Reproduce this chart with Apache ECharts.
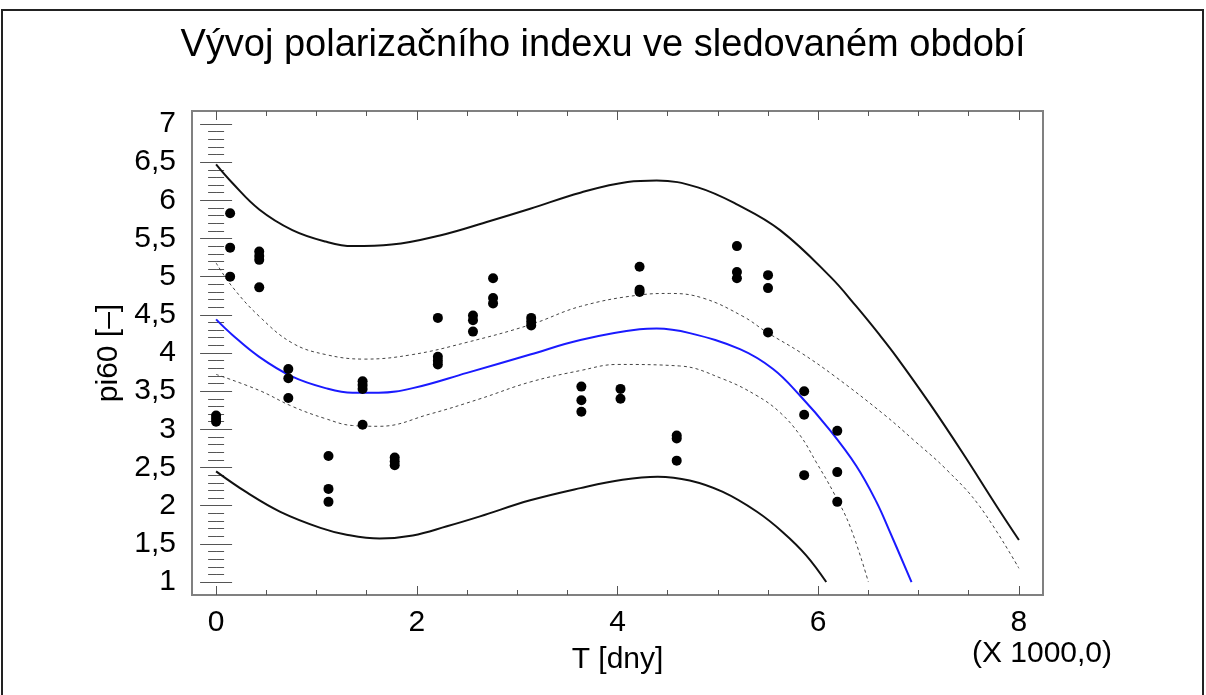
<!DOCTYPE html>
<html><head><meta charset="utf-8">
<script src="https://cdn.jsdelivr.net/npm/echarts@6/dist/echarts.min.js"></script>
<style>html,body{margin:0;padding:0;background:#fff}#c{width:1206px;height:695px}</style>
</head><body><div id="c"></div>
<script>
const titleText = 'Vývoj polarizačního indexu ve sledovaném období';
const xName = 'T [dny]';
const yName = 'pi60 [–]';
const xScaleNote = '(X 1000,0)';

// tick labels
const xTickLabels = [0, 2, 4, 6, 8];
const xMinorTicks = [0, 0.5, 1, 1.5, 2, 2.5, 3, 3.5, 4, 4.5, 5, 5.5, 6, 6.5, 7, 7.5, 8];
const yTickLabels = [1, 1.5, 2, 2.5, 3, 3.5, 4, 4.5, 5, 5.5, 6, 6.5, 7];

// observed points (T in thousands of days, pi60)
const pointT = [0, 0, 0, 0.14, 0.14, 0.14, 0.43, 0.43, 0.43, 0.43, 0.72, 0.72, 0.72,
  1.12, 1.12, 1.12, 1.46, 1.46, 1.46, 1.46, 1.78, 1.78, 1.78,
  2.21, 2.21, 2.21, 2.21, 2.56, 2.56, 2.56, 2.76, 2.76, 2.76, 3.14, 3.14, 3.14,
  3.64, 3.64, 3.64, 4.03, 4.03, 4.22, 4.22, 4.22, 4.59, 4.59, 4.59,
  5.19, 5.19, 5.19, 5.50, 5.50, 5.50, 5.86, 5.86, 5.86, 6.19, 6.19, 6.19];
const pointV = [3.18, 3.14, 3.10, 5.83, 5.38, 5.00, 5.33, 5.27, 5.22, 4.86, 3.79, 3.67, 3.41,
  2.65, 2.22, 2.05, 3.63, 3.58, 3.53, 3.06, 2.63, 2.58, 2.53,
  4.46, 3.95, 3.90, 3.85, 4.49, 4.43, 4.28, 4.98, 4.72, 4.65, 4.46, 4.41, 4.36,
  3.56, 3.38, 3.23, 3.53, 3.40, 5.13, 4.83, 4.80, 2.92, 2.88, 2.59,
  5.40, 5.06, 4.98, 5.02, 4.85, 4.27, 3.50, 3.19, 2.40, 2.98, 2.44, 2.05];

// fitted model
const fitT = [0, 0.16, 0.43, 0.76, 1.09, 1.36, 1.62, 1.96, 2.5, 3.13, 3.63, 4.22, 4.39, 4.72, 5.22, 5.55, 5.82, 6.11, 6.38, 6.58, 6.71, 6.93];
const fitV = [4.44, 4.24, 3.95, 3.69, 3.54, 3.48, 3.48, 3.54, 3.74, 3.98, 4.17, 4.31, 4.32, 4.26, 4.05, 3.79, 3.44, 3.00, 2.52, 2.05, 1.67, 1.0];

// prediction limits
const predUpT = [0, 0.16, 0.43, 0.76, 1.09, 1.36, 1.75, 2.23, 2.73, 3.13, 3.63, 4.1, 4.39, 4.8, 5.2, 5.62, 6.12, 6.38, 6.61, 6.78, 7.11, 7.44, 7.78, 8.0];
const predUpV = [6.47, 6.23, 5.88, 5.61, 5.46, 5.40, 5.42, 5.54, 5.73, 5.89, 6.10, 6.24, 6.26, 6.17, 5.94, 5.61, 5.0, 4.61, 4.24, 3.95, 3.34, 2.69, 1.99, 1.55];
const predLoT = [0, 0.31, 0.64, 1.04, 1.30, 1.63, 1.96, 2.3, 2.63, 3.13, 3.63, 4.05, 4.4, 4.72, 5.05, 5.39, 5.65, 5.88, 6.08];
const predLoV = [2.45, 2.17, 1.92, 1.71, 1.62, 1.57, 1.61, 1.73, 1.86, 2.07, 2.23, 2.34, 2.38, 2.33, 2.18, 1.92, 1.65, 1.35, 1.0];

// confidence limits
const confUpT = [0, 0.16, 0.43, 0.76, 1.09, 1.48, 1.96, 2.5, 3.13, 3.63, 4.22, 4.52, 4.85, 5.25, 5.49, 5.82, 6.16, 6.66, 6.95, 7.28, 7.61, 8.0];
const confUpV = [5.18, 4.87, 4.48, 4.13, 3.98, 3.92, 3.98, 4.14, 4.37, 4.61, 4.76, 4.78, 4.72, 4.48, 4.27, 4.01, 3.70, 3.19, 2.86, 2.47, 1.99, 1.18];
const confLoT = [0, 0.43, 0.76, 1.09, 1.36, 1.63, 2.13, 2.63, 3.13, 3.63, 4.0, 4.62, 5.05, 5.39, 5.62, 5.82, 5.98, 6.15, 6.32, 6.50];
const confLoV = [3.72, 3.51, 3.30, 3.14, 3.05, 3.04, 3.20, 3.40, 3.62, 3.77, 3.85, 3.83, 3.66, 3.44, 3.22, 2.92, 2.57, 2.18, 1.72, 1.0];

const yMinorTicks = [];
for (let i = 10; i <= 70; i++) yMinorTicks.push(i / 10);

const FONT = "'Liberation Sans', Arial, sans-serif";
const X_MIN = -0.24, X_MAX = 8.24, Y_MIN = 0.83, Y_MAX = 7.17;
const tickColor = '#555';

function zip(a, b) { return a.map((v, i) => [v, b[i]]); }

function xAx(pos, ticks, len, labels, extra) {
  return Object.assign({
    type: 'value', min: X_MIN, max: X_MAX, position: pos,
    axisLine: { show: false }, splitLine: { show: false },
    axisTick: { show: true, inside: true, length: len, customValues: ticks, lineStyle: { color: tickColor, width: 1 } },
    axisLabel: labels ? { show: true, customValues: labels, fontSize: 30, color: '#000', fontFamily: FONT, margin: 13 } : { show: false }
  }, extra || {});
}
function yAx(pos, ticks, len, labels, extra) {
  return Object.assign({
    type: 'value', min: Y_MIN, max: Y_MAX, position: pos,
    axisLine: { show: false }, splitLine: { show: false },
    axisTick: { show: true, inside: true, length: len, customValues: ticks, lineStyle: { color: tickColor, width: 1 } },
    axisLabel: labels ? { show: true, customValues: labels, fontSize: 30, color: '#000', fontFamily: FONT, margin: 16,
      formatter: v => String(v).replace('.', ',') } : { show: false }
  }, extra || {});
}

const lineBase = { type: 'line', showSymbol: false, symbol: 'none', smooth: 0.4 };

const chart = echarts.init(document.getElementById('c'), null, { renderer: 'canvas' });
chart.setOption({
  animation: false,
  backgroundColor: '#fff',
  title: {
    text: titleText, left: 'center', top: 22,
    textStyle: { fontSize: 38, fontWeight: 'normal', color: '#000', fontFamily: FONT }
  },
  grid: { left: 192, top: 111, width: 851, height: 484, show: true, borderColor: '#808080', borderWidth: 2, backgroundColor: '#fff' },
  xAxis: [
    xAx('bottom', xTickLabels, 9, xTickLabels, {
      name: xName, nameLocation: 'middle', nameGap: 50,
      nameTextStyle: { fontSize: 30, color: '#000', fontFamily: FONT }
    }),
    xAx('bottom', xMinorTicks, 5, null),
    xAx('top', xTickLabels, 9, null),
    xAx('top', xMinorTicks, 5, null)
  ],
  yAxis: [
    yAx('left', yTickLabels, 16, yTickLabels, {
      name: yName, nameLocation: 'middle', nameGap: 30, nameRotate: 90,
      nameTextStyle: { fontSize: 30, color: '#000', fontFamily: FONT }
    }),
    yAx('left', yMinorTicks, 8, null),
    yAx('right', yTickLabels, 16, null),
    yAx('right', yMinorTicks, 8, null)
  ],
  graphic: [
    { type: 'rect', shape: { x: 2, y: 10, width: 1201, height: 700 }, style: { fill: 'none', stroke: '#222', lineWidth: 2 }, silent: true, z: 100 },
    { type: 'text', x: 1042, y: 654, style: { text: xScaleNote, fontSize: 30, fill: '#000', fontFamily: FONT, textAlign: 'center', textVerticalAlign: 'middle' } }
  ],
  series: [
    Object.assign({}, lineBase, { data: zip(predUpT, predUpV), lineStyle: { color: '#111', width: 2 }, z: 2 }),
    Object.assign({}, lineBase, { data: zip(predLoT, predLoV), lineStyle: { color: '#111', width: 2 }, z: 2 }),
    Object.assign({}, lineBase, { data: zip(confUpT, confUpV), lineStyle: { color: '#444', width: 1, type: [3, 3] }, z: 2 }),
    Object.assign({}, lineBase, { data: zip(confLoT, confLoV), lineStyle: { color: '#444', width: 1, type: [3, 3] }, z: 2 }),
    Object.assign({}, lineBase, { data: zip(fitT, fitV), lineStyle: { color: '#1a1aff', width: 2 }, z: 3 }),
    { type: 'scatter', data: zip(pointT, pointV), symbol: 'circle', symbolSize: 10, itemStyle: { color: '#000', opacity: 1 }, z: 4 }
  ]
});
</script>
</body></html>
